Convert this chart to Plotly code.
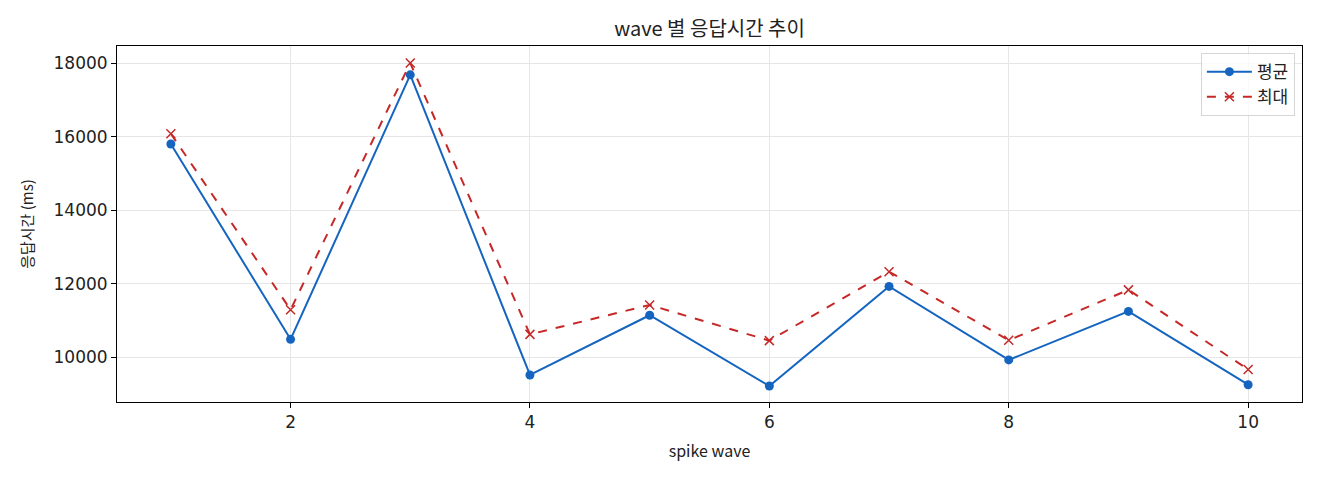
import plotly.graph_objects as go

# dados
waves = [1, 2, 3, 4, 5, 6, 7, 8, 9, 10]
media_ms = [15800, 10485, 17680, 9515, 11140, 9215, 11925, 9925, 11245, 9250]
maximo_ms = [16080, 11290, 18000, 10620, 11420, 10450, 12325, 10460, 11830, 9665]
y_ticks = [10000, 12000, 14000, 16000, 18000]

fonte = "Noto Sans CJK KR"
fonte_num = "DejaVu Sans"

fig = go.Figure()

fig.add_trace(go.Scatter(
    x=waves, y=media_ms, name='평균', mode='lines+markers',
    line=dict(color='#1565C0', width=2),
    marker=dict(symbol='circle', size=9, color='#1565C0'),
))

fig.add_trace(go.Scatter(
    x=waves, y=maximo_ms, name='최대', mode='lines+markers',
    line=dict(color='#C62828', width=2, dash='dash'),
    marker=dict(symbol='x-thin', size=9, line=dict(color='#C62828', width=1.5)),
))

eixo = dict(
    showline=True, linecolor='black', linewidth=1, mirror=True,
    ticks='outside', ticklen=5, tickcolor='black',
    showgrid=True, gridcolor='#e6e6e6', zeroline=False,
    tickfont=dict(family=fonte_num, size=17, color='#222222'),
)

# a página tem 8px de margem no body, por isso o tamanho é 1312x472
fig.update_layout(
    width=1312, height=472,
    margin=dict(l=109, r=18, t=38, b=78),
    plot_bgcolor='white', paper_bgcolor='white',
    font=dict(family=fonte, color='#222222'),
    title=dict(text='wave 별 응답시간 추이', x=0.5, xref='paper', xanchor='center',
               y=0.955, yanchor='middle', font=dict(family=fonte, size=20)),
    xaxis=dict(eixo, range=[0.55, 10.45], tickvals=[2, 4, 6, 8, 10],
               title=dict(text='spike wave', font=dict(family=fonte, size=16), standoff=14)),
    yaxis=dict(eixo, range=[8780, 18465], tickvals=y_ticks,
               ticktext=[str(v) for v in y_ticks],
               title=dict(text='응답시간 (ms)', font=dict(family=fonte, size=15), standoff=16)),
    legend=dict(x=0.994, y=0.98, xanchor='right', yanchor='top', itemwidth=45,
                bgcolor='rgba(255,255,255,0.8)', bordercolor='#d6d6d6', borderwidth=1,
                font=dict(family=fonte, size=17)),
    showlegend=True,
)

fig.write_html("out.html")
